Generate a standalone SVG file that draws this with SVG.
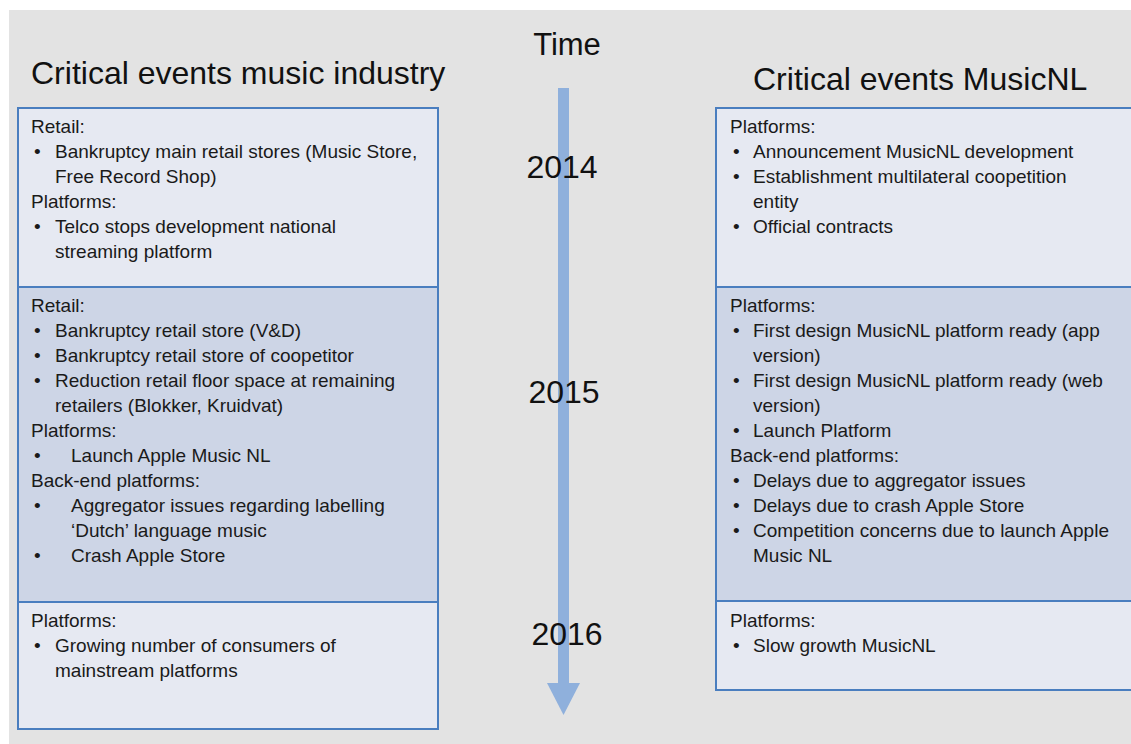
<svg xmlns="http://www.w3.org/2000/svg" width="1131" height="744" viewBox="0 0 1131 744">
<style>
.t{font-family:"Liberation Sans",Arial,sans-serif;font-size:19px;fill:#1a1a1a}
.h{font-family:"Liberation Sans",Arial,sans-serif;font-size:32px;fill:#111}
.y{font-family:"Liberation Sans",Arial,sans-serif;font-size:32px;fill:#111;text-anchor:middle}
.light{fill:#e6e9f2;stroke:#4a7ebf;stroke-width:2}
.dark{fill:#cdd5e6;stroke:#4a7ebf;stroke-width:2}
</style>
<rect width="1131" height="744" fill="#ffffff"/>
<rect x="9" y="10" width="1122" height="734" fill="#e3e3e3"/>
<text class="h" x="31" y="84">Critical events music industry</text>
<text class="h" x="753" y="90">Critical events MusicNL</text>
<text class="y" x="567" y="55" style="font-size:31px">Time</text>
<g id="timeline">
<rect x="558" y="88" width="11" height="596" fill="#8fb0dc"/>
<polygon points="547,683 580,683 563.5,715" fill="#8fb0dc"/>
</g>
<text class="y" x="562" y="178">2014</text>
<text class="y" x="564" y="403">2015</text>
<text class="y" x="567" y="645">2016</text>
<g id="ind2014">
<rect class="light" x="18" y="108" width="420" height="179"/>
<text class="t" x="31" y="133">Retail:</text>
<text class="t" x="34" y="158">•</text><text class="t" x="55" y="158">Bankruptcy main retail stores (Music Store,</text>
<text class="t" x="55" y="183">Free Record Shop)</text>
<text class="t" x="31" y="208">Platforms:</text>
<text class="t" x="34" y="233">•</text><text class="t" x="55" y="233">Telco stops development national</text>
<text class="t" x="55" y="258">streaming platform</text>
</g>
<g id="ind2015">
<rect class="dark" x="18" y="287" width="420" height="315"/>
<text class="t" x="31" y="312">Retail:</text>
<text class="t" x="34" y="337">•</text><text class="t" x="55" y="337">Bankruptcy retail store (V&amp;D)</text>
<text class="t" x="34" y="362">•</text><text class="t" x="55" y="362">Bankruptcy retail store of coopetitor</text>
<text class="t" x="34" y="387">•</text><text class="t" x="55" y="387">Reduction retail floor space at remaining</text>
<text class="t" x="55" y="412">retailers (Blokker, Kruidvat)</text>
<text class="t" x="31" y="437">Platforms:</text>
<text class="t" x="34" y="462">•</text><text class="t" x="71" y="462">Launch Apple Music NL</text>
<text class="t" x="31" y="487">Back-end platforms:</text>
<text class="t" x="34" y="512">•</text><text class="t" x="71" y="512">Aggregator issues regarding labelling</text>
<text class="t" x="71" y="537">‘Dutch’ language music</text>
<text class="t" x="34" y="562">•</text><text class="t" x="71" y="562">Crash Apple Store</text>
</g>
<g id="ind2016">
<rect class="light" x="18" y="602" width="420" height="127"/>
<text class="t" x="31" y="627">Platforms:</text>
<text class="t" x="34" y="652">•</text><text class="t" x="55" y="652">Growing number of consumers of</text>
<text class="t" x="55" y="677">mainstream platforms</text>
</g>
<g id="nl2014">
<rect class="light" x="716" y="108" width="420" height="179"/>
<text class="t" x="730" y="133">Platforms:</text>
<text class="t" x="733" y="158">•</text><text class="t" x="753" y="158">Announcement  MusicNL development</text>
<text class="t" x="733" y="183">•</text><text class="t" x="753" y="183">Establishment multilateral coopetition</text>
<text class="t" x="753" y="208">entity</text>
<text class="t" x="733" y="233">•</text><text class="t" x="753" y="233">Official contracts</text>
</g>
<g id="nl2015">
<rect class="dark" x="716" y="287" width="420" height="314"/>
<text class="t" x="730" y="312">Platforms:</text>
<text class="t" x="733" y="337">•</text><text class="t" x="753" y="337">First design MusicNL platform ready (app</text>
<text class="t" x="753" y="362">version)</text>
<text class="t" x="733" y="387">•</text><text class="t" x="753" y="387">First design MusicNL platform ready (web</text>
<text class="t" x="753" y="412">version)</text>
<text class="t" x="733" y="437">•</text><text class="t" x="753" y="437">Launch Platform</text>
<text class="t" x="730" y="462">Back-end platforms:</text>
<text class="t" x="733" y="487">•</text><text class="t" x="753" y="487">Delays due to aggregator issues</text>
<text class="t" x="733" y="512">•</text><text class="t" x="753" y="512">Delays due to crash Apple Store</text>
<text class="t" x="733" y="537">•</text><text class="t" x="753" y="537">Competition concerns due to launch Apple</text>
<text class="t" x="753" y="562">Music NL</text>
</g>
<g id="nl2016">
<rect class="light" x="716" y="601" width="420" height="89"/>
<text class="t" x="730" y="627">Platforms:</text>
<text class="t" x="733" y="652">•</text><text class="t" x="753" y="652">Slow growth MusicNL</text>
</g>
</svg>
